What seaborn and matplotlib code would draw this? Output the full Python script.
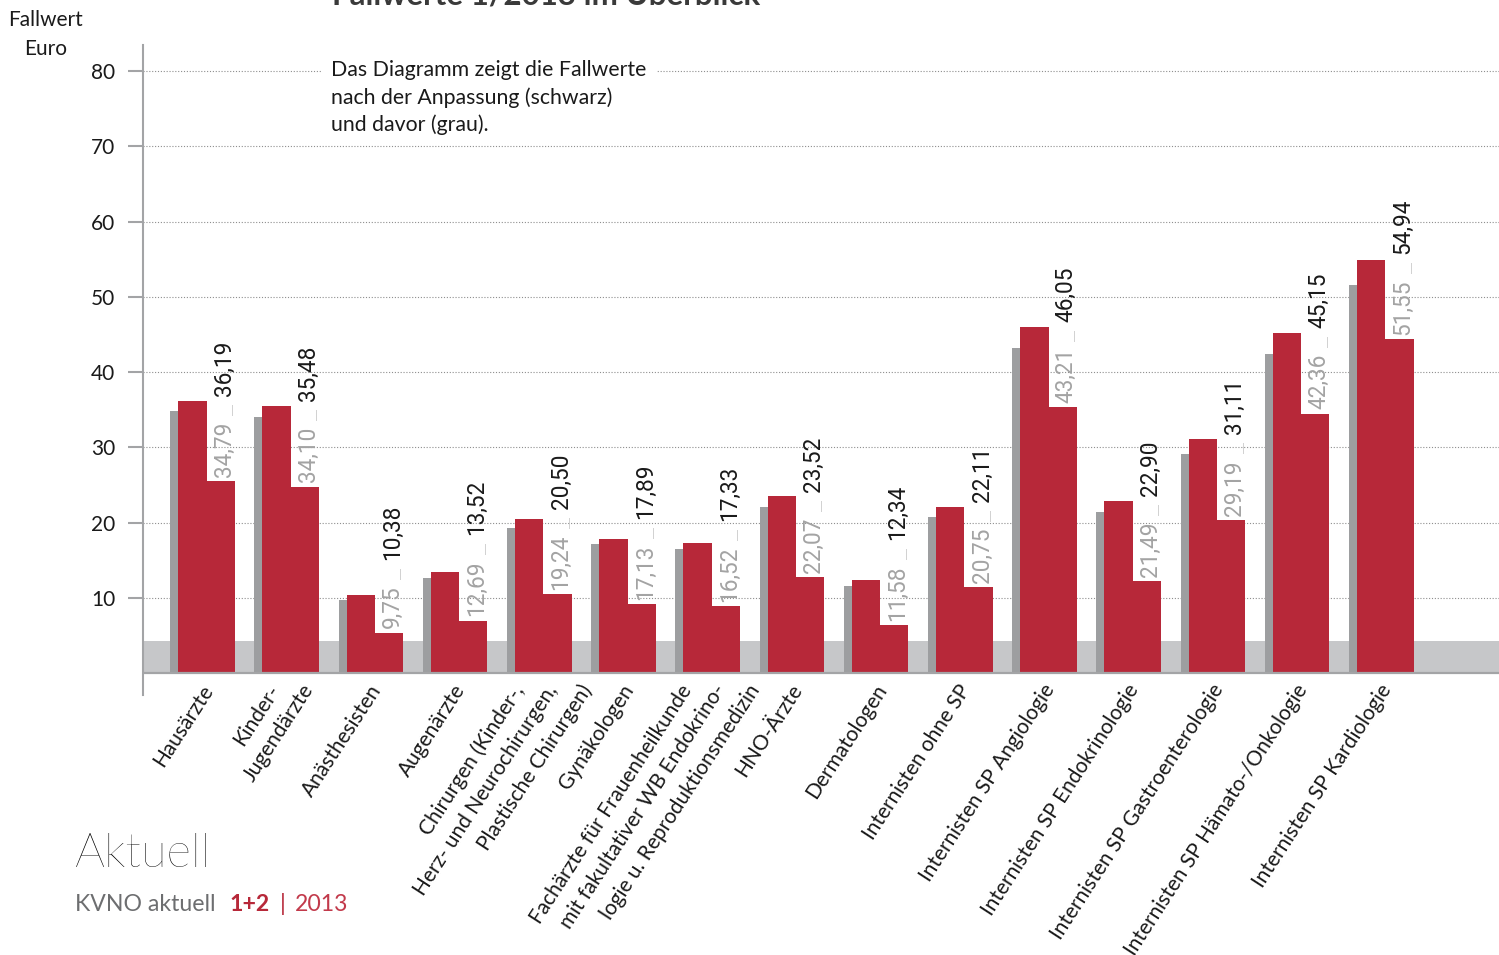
import numpy as np
import pandas as pd
import matplotlib
matplotlib.use("Agg")
import matplotlib.pyplot as plt
import seaborn as sns

# Fachgruppen (x axis)
categories = [
    "Hausärzte",
    "Kinder-\nJugendärzte",
    "Anästhesisten",
    "Augenärzte",
    "Chirurgen (Kinder-,\nHerz- und Neurochirurgen,\nPlastische Chirurgen)",
    "Gynäkologen",
    "Fachärzte für Frauenheilkunde\nmit fakultativer WB Endokrino-\nlogie u. Reproduktionsmedizin",
    "HNO-Ärzte",
    "Dermatologen",
    "Internisten ohne SP",
    "Internisten SP Angiologie",
    "Internisten SP Endokrinologie",
    "Internisten SP Gastroenterologie",
    "Internisten SP Hämato-/Onkologie",
    "Internisten SP Kardiologie",
]

# Fallwerte in Euro: vor der Anpassung (grau) und danach (rot/schwarz)
before = [34.79, 34.10, 9.75, 12.69, 19.24, 17.13, 16.52, 22.07, 11.58,
          20.75, 43.21, 21.49, 29.19, 42.36, 51.55]
after = [36.19, 35.48, 10.38, 13.52, 20.50, 17.89, 17.33, 23.52, 12.34,
         22.11, 46.05, 22.90, 31.11, 45.15, 54.94]
# height of the red column underneath each value label
label_base = [25.5, 24.8, 5.4, 7.0, 10.5, 9.2, 8.9, 12.8, 6.4,
              11.4, 35.4, 12.2, 20.4, 34.5, 44.4]

yticks = [10, 20, 30, 40, 50, 60, 70, 80]

sns.set_style("white")
plt.rcParams["font.family"] = ["Lato", "DejaVu Sans"]

RED = "#b72839"
GRAY_BAR = "#9d9ea0"
BAND = "#c6c7c9"
AXIS = "#a3a4a6"
TXT = "#1a1a1a"
PX = 0.72  # points per pixel at 100 dpi

W, H = 1499, 955
fig = plt.figure(figsize=(W / 100, H / 100), dpi=100)
ax = fig.add_axes([143 / W, 1 - 695 / H, 1 - 143 / W, (695 - 45) / H])

idx = np.arange(len(categories))
df = pd.DataFrame({"pos": idx, "before": before, "after": after,
                   "base": label_base})

# grey band at the bottom and dotted grid
ax.axhspan(0, 4.3, color=BAND, lw=0, zorder=0.5)
for y in yticks:
    ax.axhline(y, color="#8e8e8e", lw=0.8, ls=(0, (1, 1.6)), zorder=0.4)

# bars: previous value (grey), new value (red) and the label column
sns.barplot(x=df["pos"] - 0.265, y=df["before"], native_scale=True,
            orient="x", width=0.333, color=GRAY_BAR, saturation=1,
            errorbar=None, linewidth=0, ax=ax, zorder=2)
sns.barplot(x=df["pos"] - 0.168, y=df["after"], native_scale=True,
            orient="x", width=0.337, color=RED, saturation=1,
            errorbar=None, linewidth=0, ax=ax, zorder=3)
sns.barplot(x=df["pos"] + 0.168, y=df["base"], native_scale=True,
            orient="x", width=0.337, color=RED, saturation=1,
            errorbar=None, linewidth=0, ax=ax, zorder=3)

# baseline
ax.axhline(0, color=AXIS, lw=1.6, zorder=4)

# value labels "vorher | nachher"
def fmt(v):
    return f"{v:.2f}".replace(".", ",")

for i in idx:
    t1 = ax.annotate(fmt(before[i]), xy=(i + 0.21, label_base[i]),
                     xytext=(0, 3), textcoords="offset points",
                     rotation=90, ha="center", va="bottom",
                     fontsize=16.3, family="Roboto", color="#a3a3a3", zorder=5)
    ax.annotate("|", xy=(0.86, 1), xycoords=t1, xytext=(0, 8),
                textcoords="offset points", ha="center", va="center",
                fontsize=8, color="#c4c4c4", zorder=5)
    ax.annotate(fmt(after[i]), xy=(0.5, 1), xycoords=t1, xytext=(0, 18.5),
                textcoords="offset points", rotation=90, ha="center",
                va="bottom", fontsize=16.3, family="Roboto", color=TXT,
                zorder=5)

# category labels: every line ends on the same height below the axis
LINE_SHIFT = 34  # px between consecutive line ends
for i, lab in zip(idx, categories):
    lines = lab.split("\n")
    n = len(lines)
    for k, line in enumerate(lines):
        dx = 2 + (k - (n - 1) / 2) * LINE_SHIFT + (8 if n == 3 else 0)
        ax.annotate(line, xy=(i, 0), xytext=(dx * PX, -13 * PX),
                    textcoords="offset points", rotation=57, ha="right",
                    va="center", rotation_mode="anchor",
                    fontsize=15.0, color=TXT, annotation_clip=False)

ax.set_xlim(-0.754, 15.35)
ax.set_ylim(-2.88, 83.45)
ax.set_xticks([])
ax.set_yticks(yticks)
ax.set_yticklabels([str(v) for v in yticks])
ax.set_xlabel("")
ax.set_ylabel("")
ax.tick_params(axis="y", left=True, length=10.8, width=1.5, color=AXIS,
               pad=9, labelsize=15, labelcolor=TXT)
for side in ("top", "right", "bottom"):
    ax.spines[side].set_visible(False)
ax.spines["left"].set_color(AXIS)
ax.spines["left"].set_linewidth(1.5)

# headings and notes
fig.text(332 / W, 1 - 4 / H, "Fallwerte 1/2013 im Überblick", fontsize=22.5,
         fontweight="bold", color="#3a3a3a", ha="left", va="baseline")
fig.text(46 / W, 1 - 20 / H, "Fallwert", fontsize=15, color=TXT,
         ha="center", va="center")
fig.text(46 / W, 1 - 49 / H, "Euro", fontsize=15, color=TXT,
         ha="center", va="center")
fig.text(331 / W, 1 - 60 / H,
         "Das Diagramm zeigt die Fallwerte\nnach der Anpassung (schwarz)\nund davor (grau).",
         fontsize=15.3, linespacing=1.42, color=TXT, ha="left", va="top",
         bbox=dict(boxstyle="square,pad=0.45", facecolor="white",
                   edgecolor="none"))

fig.text(75 / W, 1 - 867 / H, "Aktuell", fontsize=34, fontweight="light",
         color="#000000", ha="left", va="baseline")
fig.text(75 / W, 1 - 911 / H, "KVNO aktuell", fontsize=16.6,
         color="#6d6e70", ha="left", va="baseline")
fig.text(229 / W, 1 - 911 / H, "1+2", fontsize=16.6, fontweight="bold",
         color=RED, ha="left", va="baseline")
fig.text(280 / W, 1 - 911 / H, "|", fontsize=16.6, color=RED,
         ha="left", va="baseline")
fig.text(295 / W, 1 - 911 / H, "2013", fontsize=16.6, color="#c23a4b",
         ha="left", va="baseline")

fig.savefig("out.png", dpi=100, facecolor="white")
